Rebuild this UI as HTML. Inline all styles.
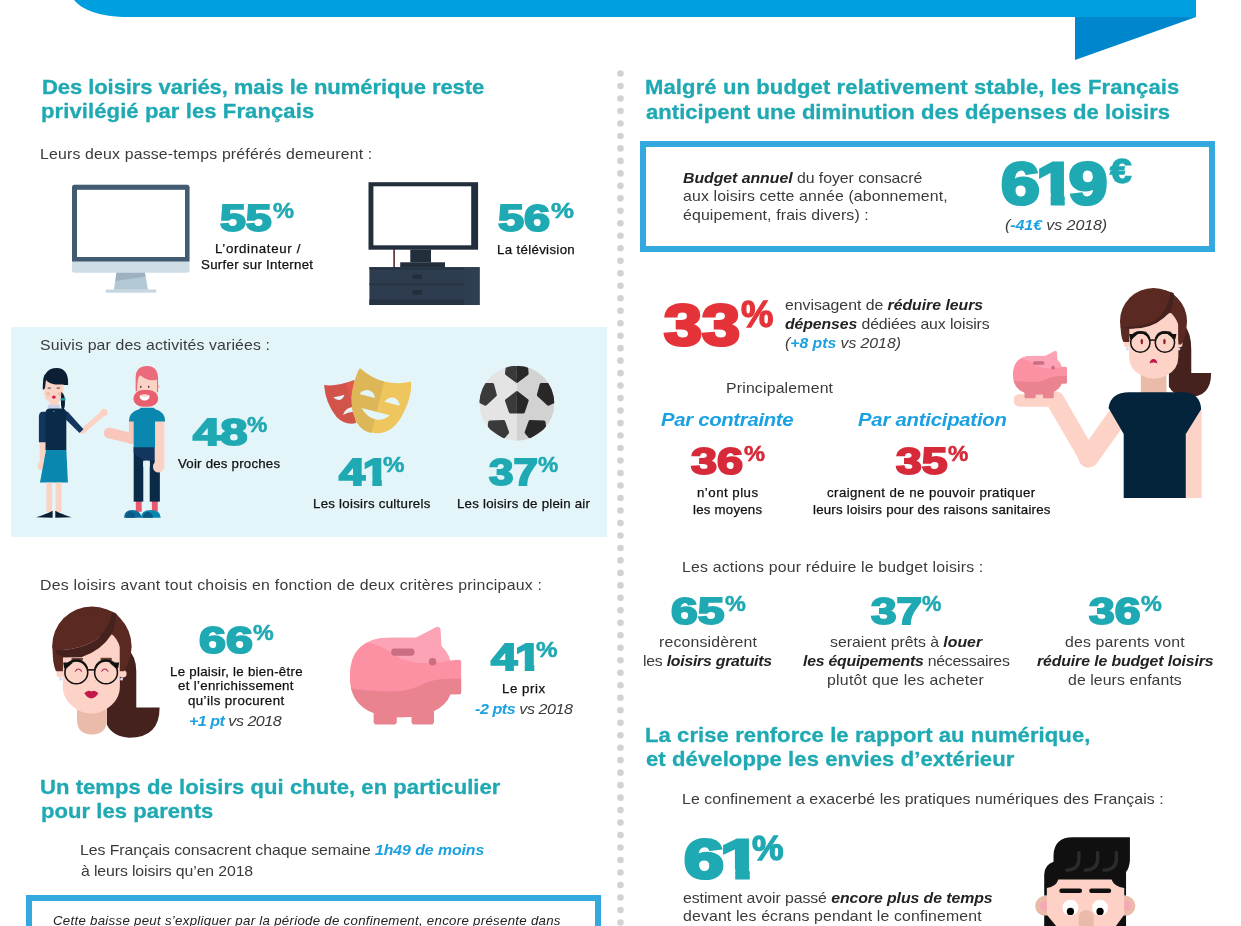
<!DOCTYPE html>
<html lang="fr"><head><meta charset="utf-8"><title>Les Français et les loisirs</title>
<style>
*{margin:0;padding:0;box-sizing:border-box}
html,body{width:1241px;height:926px;overflow:hidden;background:#fff}
body{position:relative;font-family:"Liberation Sans", Arial, sans-serif;}
.t{position:absolute;white-space:nowrap;line-height:1;transform-origin:0 0;}
.h{font-weight:700;color:#1fa9b3;-webkit-text-stroke:0.3px #1fa9b3;}
.b{color:#3a3a3a;}
.k{color:#111;-webkit-text-stroke:0.25px #111;}
.k2{color:#222}
.p{font-weight:700;font-style:italic;color:#1ba1e2;}
.bi{font-weight:700;font-style:italic;color:#222}
.bi.bl{color:#1ba1e2}
.n{font-weight:700;}
.n.t{color:#1fa9b3;-webkit-text-stroke:2px #1fa9b3;}
.n.r{color:#e5333a;-webkit-text-stroke:2px #e5333a;}
.n.r2{color:#d62a3a;-webkit-text-stroke:2px #d62a3a;}
.one{display:inline-block;margin:0 -0.09em 0 -0.05em;clip-path:polygon(0 0,100% 0,100% 66%,73.5% 66%,73.5% 130%,37.5% 130%,37.5% 66%,0 66%)}
.n.pc{-webkit-text-stroke-width:0.5px !important}
.n.pc.pcb{-webkit-text-stroke-width:1.3px !important}
.n.big{-webkit-text-stroke-width:3.2px}
.panel{position:absolute;left:11.2px;top:326.5px;width:595.8px;height:210.7px;background:#e4f5fa}
.box{position:absolute;border:6px solid #33a9dd;background:#fff}
#art{position:absolute;left:0;top:0;width:1241px;height:926px}
</style></head>
<body>
<div class="panel"></div>
<div class="box" style="left:640px;top:141px;width:575px;height:111px"></div>
<div class="box" style="left:26px;top:895px;width:575px;height:60px"></div>
<svg id="art" width="1241" height="926" viewBox="0 0 1241 926">

<path d="M74,0 C82,10 100,17 128,17 L1196,17 L1196,0 Z" fill="#00a0e0"/>
<path d="M1075,17 L1196,17 L1075,60 Z" fill="#0086cd"/>
<g fill="#d2d2d2"><circle cx="620.45" cy="73.50" r="3.3"/><circle cx="620.45" cy="85.98" r="3.3"/><circle cx="620.45" cy="98.47" r="3.3"/><circle cx="620.45" cy="110.95" r="3.3"/><circle cx="620.45" cy="123.44" r="3.3"/><circle cx="620.45" cy="135.93" r="3.3"/><circle cx="620.45" cy="148.41" r="3.3"/><circle cx="620.45" cy="160.89" r="3.3"/><circle cx="620.45" cy="173.38" r="3.3"/><circle cx="620.45" cy="185.87" r="3.3"/><circle cx="620.45" cy="198.35" r="3.3"/><circle cx="620.45" cy="210.83" r="3.3"/><circle cx="620.45" cy="223.32" r="3.3"/><circle cx="620.45" cy="235.81" r="3.3"/><circle cx="620.45" cy="248.29" r="3.3"/><circle cx="620.45" cy="260.77" r="3.3"/><circle cx="620.45" cy="273.26" r="3.3"/><circle cx="620.45" cy="285.75" r="3.3"/><circle cx="620.45" cy="298.23" r="3.3"/><circle cx="620.45" cy="310.71" r="3.3"/><circle cx="620.45" cy="323.20" r="3.3"/><circle cx="620.45" cy="335.69" r="3.3"/><circle cx="620.45" cy="348.17" r="3.3"/><circle cx="620.45" cy="360.65" r="3.3"/><circle cx="620.45" cy="373.14" r="3.3"/><circle cx="620.45" cy="385.62" r="3.3"/><circle cx="620.45" cy="398.11" r="3.3"/><circle cx="620.45" cy="410.59" r="3.3"/><circle cx="620.45" cy="423.08" r="3.3"/><circle cx="620.45" cy="435.56" r="3.3"/><circle cx="620.45" cy="448.05" r="3.3"/><circle cx="620.45" cy="460.53" r="3.3"/><circle cx="620.45" cy="473.02" r="3.3"/><circle cx="620.45" cy="485.50" r="3.3"/><circle cx="620.45" cy="497.99" r="3.3"/><circle cx="620.45" cy="510.47" r="3.3"/><circle cx="620.45" cy="522.96" r="3.3"/><circle cx="620.45" cy="535.44" r="3.3"/><circle cx="620.45" cy="547.93" r="3.3"/><circle cx="620.45" cy="560.41" r="3.3"/><circle cx="620.45" cy="572.90" r="3.3"/><circle cx="620.45" cy="585.38" r="3.3"/><circle cx="620.45" cy="597.87" r="3.3"/><circle cx="620.45" cy="610.36" r="3.3"/><circle cx="620.45" cy="622.84" r="3.3"/><circle cx="620.45" cy="635.32" r="3.3"/><circle cx="620.45" cy="647.81" r="3.3"/><circle cx="620.45" cy="660.29" r="3.3"/><circle cx="620.45" cy="672.78" r="3.3"/><circle cx="620.45" cy="685.26" r="3.3"/><circle cx="620.45" cy="697.75" r="3.3"/><circle cx="620.45" cy="710.24" r="3.3"/><circle cx="620.45" cy="722.72" r="3.3"/><circle cx="620.45" cy="735.20" r="3.3"/><circle cx="620.45" cy="747.69" r="3.3"/><circle cx="620.45" cy="760.17" r="3.3"/><circle cx="620.45" cy="772.66" r="3.3"/><circle cx="620.45" cy="785.14" r="3.3"/><circle cx="620.45" cy="797.63" r="3.3"/><circle cx="620.45" cy="810.12" r="3.3"/><circle cx="620.45" cy="822.60" r="3.3"/><circle cx="620.45" cy="835.08" r="3.3"/><circle cx="620.45" cy="847.57" r="3.3"/><circle cx="620.45" cy="860.05" r="3.3"/><circle cx="620.45" cy="872.54" r="3.3"/><circle cx="620.45" cy="885.02" r="3.3"/><circle cx="620.45" cy="897.51" r="3.3"/><circle cx="620.45" cy="910.00" r="3.3"/><circle cx="620.45" cy="922.48" r="3.3"/><circle cx="620.45" cy="934.96" r="3.3"/></g>

<g>
<path d="M113.9,289.7 L116.6,272 L144.8,272 L148,289.7 Z" fill="#b3c8d5"/>
<path d="M116.6,272 L144.8,272 L145.6,276.5 L115.3,281 Z" fill="#9db1c0"/>
<rect x="105.7" y="289.5" width="50.5" height="3.2" fill="#c6d7e1"/>
<rect x="72" y="184.8" width="117.5" height="88" rx="2.5" fill="#cfdde7"/>
<path d="M72,261.5 L72,187.3 Q72,184.8 74.5,184.8 L187,184.8 Q189.5,184.8 189.5,187.3 L189.5,261.5 Z" fill="#435b71"/>
<rect x="77" y="189.8" width="108" height="67.2" fill="#fff"/>
</g>

<g>
<rect x="393.3" y="249" width="1.6" height="19" fill="#5b2a2a"/>
<rect x="368.5" y="182.2" width="109.6" height="67.5" fill="#222e3c"/>
<rect x="373.4" y="186.3" width="97.8" height="59" fill="#fff"/>
<rect x="410.3" y="249.5" width="20.7" height="13" fill="#222e3c"/>
<rect x="400.2" y="262.3" width="44.8" height="5.2" fill="#222e3c"/>
<rect x="369.4" y="267.2" width="110.2" height="37.8" fill="#2d3d4f"/>
<rect x="369.4" y="267.2" width="94.8" height="2.4" fill="#253343"/>
<rect x="369.4" y="283.5" width="94.8" height="1.6" fill="#253343"/>
<rect x="369.4" y="299.6" width="94.8" height="5.4" fill="#253343"/>
<rect x="464.2" y="267.2" width="15.4" height="37.8" fill="#2f3f52"/>
<rect x="412.4" y="274.5" width="9.4" height="4.4" fill="#222e3c"/>
<rect x="412.4" y="290" width="9.4" height="4.6" fill="#222e3c"/>
</g>
<g transform="translate(25 360) scale(0.17816)">
<!-- woman -->
<path d="M100,165 Q95,45 178,45 Q245,45 242,140 L215,140 L215,120 L120,120 L112,165 Z" fill="#0b1e33"/>
<path d="M108,112 L215,112 L215,190 Q215,240 162,240 Q108,240 108,190 Z" fill="#fbd3c5"/>
<path d="M104,100 Q110,60 178,60 Q240,60 240,138 L170,138 Q130,130 118,112 L112,160 L100,160 Z" fill="#0b1e33"/>
<rect x="137" y="232" width="52" height="40" fill="#fbd3c5"/>
<path d="M203,180 Q228,190 224,250 Q222,280 210,282 Q198,270 203,180 Z" fill="#0b1e33"/>
<rect x="200" y="215" width="28" height="13" rx="4" fill="#1aa2b0"/>
<rect x="128" y="252" width="66" height="21" fill="#c9d3ea"/>
<ellipse cx="162" cy="208" rx="11" ry="9" fill="#d81f55"/>
<circle cx="130" cy="190" r="11" fill="#efbcae"/>
<circle cx="193" cy="190" r="11" fill="#efbcae"/>
<rect x="127" y="155" width="18" height="5" fill="#3b2a3a"/><rect x="178" y="155" width="18" height="5" fill="#3b2a3a"/>
<rect x="82" y="440" width="33" height="150" fill="#fbd3c5"/><circle cx="92" cy="595" r="23" fill="#fbd3c5"/>
<path d="M78,320 Q78,290 100,290 L118,290 L118,462 L78,462 Z" fill="#12365f"/>
<line x1="322" y1="400" x2="440" y2="297" stroke="#fbd3c5" stroke-width="30" stroke-linecap="round"/><circle cx="443" cy="294" r="21" fill="#fbd3c5"/>
<path d="M215,285 L240,290 L328,388 L306,410 L225,330 Z" fill="#12365f"/>
<path d="M115,300 Q115,272 140,272 L207,272 Q232,272 232,300 L232,507 L115,507 Z" fill="#0b2a47"/>
<circle cx="162" cy="288" r="3" fill="#c9d3ea"/>
<path d="M118,505 L232,505 L241,688 L84,688 Z" fill="#0a87ae"/>
<rect x="120" y="688" width="32" height="165" fill="#fbd3c5"/><rect x="172" y="688" width="32" height="165" fill="#fbd3c5"/>
<path d="M62,882 Q120,865 155,846 L155,886 Z" fill="#0b1e33"/>
<path d="M262,882 Q205,865 170,846 L170,886 Z" fill="#0b1e33"/>
<!-- man -->
<line x1="600" y1="440" x2="472" y2="410" stroke="#f8c6ba" stroke-width="60" stroke-linecap="round"/>
<rect x="622" y="790" width="33" height="62" fill="#e9596b"/><rect x="712" y="790" width="33" height="62" fill="#e9596b"/>
<path d="M556,885 Q556,842 602,842 Q648,842 655,885 Z" fill="#0a6a99"/>
<path d="M650,885 Q652,842 706,842 Q760,842 762,885 Z" fill="#0a87ae"/>
<path d="M660,885 Q664,855 690,852 Q715,855 718,885 Z" fill="#0a5a85"/>
<path d="M566,885 Q570,855 592,852 Q615,855 618,885 Z" fill="#0a5a85"/>
<rect x="610" y="488" width="147" height="307" fill="#0b2a47"/>
<path d="M610,488 L757,488 L757,540 Q690,600 610,520 Z" fill="#12365f"/>
<rect x="664" y="565" width="36" height="232" fill="#e4f5fa"/>
<path d="M664,570 Q682,560 700,570 L700,600 L664,600 Z" fill="#e4f5fa"/>
<rect x="728" y="330" width="54" height="270" fill="#fbd3c5"/><circle cx="750" cy="600" r="32" fill="#fbd3c5"/>
<rect x="583" y="340" width="29" height="130" fill="#f8c6ba"/>
<path d="M583,345 Q583,292 640,276 L650,268 L722,268 L732,276 Q787,292 787,345 L730,345 L730,490 L610,490 L610,345 Z" fill="#0a87ae"/>
<circle cx="747" cy="150" r="10" fill="#f8c6ba"/>
<path d="M625,200 L625,100 Q625,35 685,35 Q745,35 745,100 L745,200 Z" fill="#fbd3c5"/>
<path d="M621,175 L621,100 Q621,33 685,33 Q747,33 747,108 Q705,128 645,85 Q630,95 629,175 Z" fill="#ea6b7c"/>
<rect x="741" y="100" width="6" height="80" fill="#ea6b7c"/>
<rect x="608" y="169" width="140" height="94" rx="58" ry="47" fill="#e8606f"/>
<path d="M625,185 Q650,165 672,178 Q700,165 735,185 L735,210 L625,210 Z" fill="#e8606f"/>
<path d="M643,200 Q671,188 700,200 Q698,227 671,227 Q645,227 643,200 Z" fill="#fff"/>
<path d="M643,200 Q671,188 700,200 Q671,212 643,200 Z" fill="#fbd3c5"/>
<ellipse cx="650" cy="151" rx="4" ry="6" fill="#5a2326"/><ellipse cx="694" cy="151" rx="4" ry="6" fill="#5a2326"/>
</g>
<g transform="translate(315 360) scale(0.08642)">
<path d="M105,290 Q250,310 455,232 L440,450 L475,730 Q350,760 250,660 Q120,500 105,290 Z" fill="#d2534a"/>
<path d="M355,282 Q410,260 455,232 L440,450 L430,480 Q400,400 355,282 Z" fill="#e2584f"/>
<path d="M210,432 Q280,425 340,403 Q330,450 285,462 Q240,465 210,432 Z" fill="#e4f5fa"/>
<path d="M323,636 Q350,560 430,545 L440,600 Q380,605 323,636 Z" fill="#e4f5fa"/>
<path d="M520,95 Q650,210 800,250 Q960,290 1110,250 Q1130,420 1000,660 Q880,860 700,848 Q560,840 480,720 Q395,520 435,340 Q470,170 520,95 Z" fill="#efc65e"/>
<path d="M520,95 Q650,210 800,250 L655,843 Q550,830 480,720 Q395,520 435,340 Q470,170 520,95 Z" fill="#ddb757"/>
<path d="M515,392 Q560,340 625,350 Q685,370 695,440 Z" fill="#e4f5fa"/>
<path d="M805,482 Q850,425 910,435 Q965,450 982,530 Z" fill="#e4f5fa"/>
<path d="M540,555 L865,640 Q800,700 715,690 Q600,670 540,555 Z" fill="#e4f5fa"/>
</g>
<g transform="translate(470 358) scale(0.09724)">
<defs><clipPath id="bc"><circle cx="482" cy="465" r="385"/></clipPath>
<clipPath id="bl"><rect x="0" y="0" width="482" height="930"/></clipPath>
<clipPath id="br"><rect x="482" y="0" width="500" height="930"/></clipPath></defs>
<circle cx="482" cy="465" r="385" fill="#e4e4e4"/>
<path d="M482,80 A385,385 0 0 1 482,850 Z" fill="#d2d2d2"/>
<g clip-path="url(#bc)"><g clip-path="url(#bl)"><g stroke-linejoin="round" stroke-width="36" fill="#3a3a3a" stroke="#3a3a3a"><path d="M482,358 L585,438 L547,552 L417,552 L378,438 Z"/>
<path d="M385,100 L580,100 L585,160 L482,238 L378,160 Z"/>
<path d="M160,275 L230,275 L258,380 L158,472 L90,440 Z"/>
<path d="M804,275 L734,275 L706,380 L806,472 L874,440 Z"/>
<path d="M205,660 L345,656 L384,765 L345,810 L200,710 Z"/>
<path d="M759,660 L619,656 L580,765 L619,810 L764,710 Z"/></g></g>
<g clip-path="url(#br)"><g stroke-linejoin="round" stroke-width="36" fill="#282828" stroke="#282828"><path d="M482,358 L585,438 L547,552 L417,552 L378,438 Z"/>
<path d="M385,100 L580,100 L585,160 L482,238 L378,160 Z"/>
<path d="M160,275 L230,275 L258,380 L158,472 L90,440 Z"/>
<path d="M804,275 L734,275 L706,380 L806,472 L874,440 Z"/>
<path d="M205,660 L345,656 L384,765 L345,810 L200,710 Z"/>
<path d="M759,660 L619,656 L580,765 L619,810 L764,710 Z"/></g></g></g>
</g>
<g transform="translate(30 590) scale(0.17280)">
<path d="M560,340 Q615,380 615,470 L615,680 L750,680 Q750,855 575,855 Q480,850 445,780 L445,450 Z" fill="#45221d"/>
<circle cx="358" cy="325" r="230" fill="#5a2a22"/>
<path d="M272,640 L445,640 L445,750 Q445,836 358,836 Q272,836 272,750 Z" fill="#ebbbaa"/>
<circle cx="175" cy="485" r="22" fill="#fdd3c7"/><circle cx="537" cy="485" r="22" fill="#fdd3c7"/>
<path d="M190,300 L520,250 L520,560 Q520,640 440,690 Q355,740 270,690 Q190,640 190,560 Z" fill="#fdd3c7"/>
<circle cx="178" cy="515" r="9" fill="#d9daf0"/><circle cx="530" cy="515" r="9" fill="#d9daf0"/>
<path d="M497,134 Q560,200 575,300 Q590,400 545,470 L520,470 L520,330 Q505,280 472,255 Z" fill="#5a2a22"/>
<path d="M146,350 Q120,280 170,200 Q300,60 478,126 Q458,225 385,285 Q300,345 146,350 Z" fill="#5a2a22"/>
<path d="M478,126 L497,134 Q500,205 468,262 Q415,348 300,388 L185,390 Q155,385 146,350 Q300,345 385,285 Q458,225 478,126 Z" fill="#45221d"/>
<path d="M132,360 Q130,420 150,470 L190,470 L190,385 Z" fill="#5a2a22"/>
<rect x="240" y="392" width="66" height="18" rx="6" fill="#6b4236"/><rect x="408" y="392" width="66" height="18" rx="6" fill="#6b4236"/>
<circle cx="268" cy="477" r="66" fill="none" stroke="#111" stroke-width="9"/><circle cx="440" cy="477" r="66" fill="none" stroke="#111" stroke-width="9"/>
<path d="M205,452 A66,66 0 0 1 331,452" fill="none" stroke="#111" stroke-width="11"/>
<path d="M377,452 A66,66 0 0 1 503,452" fill="none" stroke="#111" stroke-width="11"/>
<path d="M192,420 L250,420 L215,450 L198,455 Z" fill="#111"/>
<path d="M516,420 L458,420 L493,450 L510,455 Z" fill="#111"/>
<path d="M332,462 L376,462" stroke="#111" stroke-width="9"/>
<path d="M262,470 Q280,445 298,470" fill="none" stroke="#b0224a" stroke-width="6" stroke-linecap="round"/>
<path d="M415,470 Q433,445 451,470" fill="none" stroke="#b0224a" stroke-width="6" stroke-linecap="round"/>
<path d="M314,598 Q335,575 355,588 Q375,575 396,598 Q375,628 355,628 Q335,628 314,598 Z" fill="#c2184b"/>
<circle cx="335" cy="526" r="5" fill="#f3c2b5"/><circle cx="376" cy="526" r="5" fill="#f3c2b5"/>
</g>
<g transform="translate(335 610) scale(0.14043)">
<path d="M575,198 L718,122 Q750,112 752,145 L760,290 Z" fill="#fca3b5"/>
<rect x="275" y="650" width="165" height="166" rx="22" fill="#e8838f"/><rect x="545" y="650" width="160" height="166" rx="22" fill="#e8838f"/>
<clipPath id="pc1"><path d="M105,470 Q105,195 400,195 L560,195 Q780,205 820,360 L880,355 Q900,355 900,380 L900,580 Q900,600 880,600 L822,600 Q760,760 465,765 Q105,760 105,470 Z"/></clipPath>
<g clip-path="url(#pc1)">
<rect x="90" y="150" width="830" height="640" fill="#fb91a2"/>
<path d="M235,232 Q330,250 420,320 Q560,410 820,362 L830,150 L235,150 Z" fill="#fca3b5"/>
<path d="M100,555 Q300,590 480,575 Q560,565 640,520 Q740,480 905,492 L905,800 L100,800 Z" fill="#e8838f"/>
</g>
<rect x="400" y="275" width="166" height="50" rx="22" fill="#cb6e82"/>
<circle cx="695" cy="368" r="27" fill="#cb6e82"/>
</g>
<g transform="translate(1000 275) scale(0.24839)">
<path d="M740,200 Q770,230 770,300 L770,395 L850,395 Q850,492 760,492 Q700,488 680,450 L680,300 Z" fill="#45221d"/>
<circle cx="618" cy="187" r="135" fill="#5a2a22"/>
<path d="M567,380 L670,380 L670,476 L567,476 Z" fill="#ebbbaa"/>
<circle cx="512" cy="278" r="13" fill="#fdd3c7"/><circle cx="722" cy="278" r="13" fill="#fdd3c7"/>
<path d="M520,170 L718,150 L718,330 Q718,380 670,405 Q620,430 570,405 Q520,380 520,330 Z" fill="#fdd3c7"/>
<circle cx="513" cy="298" r="6" fill="#d9daf0"/><circle cx="720" cy="298" r="6" fill="#d9daf0"/>
<path d="M700,80 Q740,120 748,180 Q755,240 730,280 L718,280 L718,200 Q705,165 685,150 Z" fill="#5a2a22"/>
<path d="M497,215 Q600,220 655,165 Q690,125 698,72 Q585,30 510,115 Q480,160 497,215 Z" fill="#5a2a22"/>
<path d="M497,215 Q600,225 660,172 Q685,150 685,148 Q702,115 700,74 L686,68 Q680,125 645,165 Q595,215 497,208 Z" fill="#45221d"/>
<path d="M486,205 Q485,245 497,270 L520,270 L520,218 Z" fill="#5a2a22"/>
<rect x="548" y="227" width="42" height="11" rx="4" fill="#6b4236"/><rect x="647" y="227" width="42" height="11" rx="4" fill="#6b4236"/>
<circle cx="565" cy="272" r="39" fill="none" stroke="#111" stroke-width="6"/><circle cx="664" cy="272" r="39" fill="none" stroke="#111" stroke-width="6"/>
<path d="M528,257 A39,39 0 0 1 602,257" fill="none" stroke="#111" stroke-width="9"/>
<path d="M627,257 A39,39 0 0 1 701,257" fill="none" stroke="#111" stroke-width="9"/>
<path d="M520,238 L555,238 L534,256 L524,259 Z" fill="#111"/>
<path d="M710,238 L675,238 L696,256 L706,259 Z" fill="#111"/>
<path d="M602,262 L628,262" stroke="#111" stroke-width="6"/>
<ellipse cx="571" cy="268" rx="5" ry="11" fill="#8c1f2f"/><ellipse cx="662" cy="268" rx="5" ry="11" fill="#8c1f2f"/>
<path d="M602,356 Q606,338 618,338 Q630,338 634,356 Q618,348 602,356 Z" fill="#c2184b"/>
<!-- arms -->
<rect x="748" y="545" width="64" height="353" fill="#fdd3c7"/>
<path d="M470,575 L356,735" stroke="#fdd3c7" stroke-width="82" stroke-linecap="round"/>
<path d="M356,735 L222,505" stroke="#fdd3c7" stroke-width="74" stroke-linecap="round"/>
<path d="M78,480 L250,480 Q270,505 250,530 L85,530 Q55,530 55,505 Q55,480 78,480 Z" fill="#fdd3c7"/>
<path d="M437,535 Q445,472 520,472 L735,472 Q805,472 810,540 L748,640 L748,898 L498,898 L498,640 Z" fill="#03243b"/>
<g transform="translate(23.21 272.09) scale(0.2742)">
<path d="M575,198 L718,122 Q750,112 752,145 L760,290 Z" fill="#fca3b5"/>
<rect x="275" y="650" width="165" height="166" rx="22" fill="#e8838f"/><rect x="545" y="650" width="160" height="166" rx="22" fill="#e8838f"/>
<clipPath id="pc2"><path d="M105,470 Q105,195 400,195 L560,195 Q780,205 820,360 L880,355 Q900,355 900,380 L900,580 Q900,600 880,600 L822,600 Q760,760 465,765 Q105,760 105,470 Z"/></clipPath>
<g clip-path="url(#pc2)">
<rect x="90" y="150" width="830" height="640" fill="#fb91a2"/>
<path d="M235,232 Q330,250 420,320 Q560,410 820,362 L830,150 L235,150 Z" fill="#fca3b5"/>
<path d="M100,555 Q300,590 480,575 Q560,565 640,520 Q740,480 905,492 L905,800 L100,800 Z" fill="#e8838f"/>
</g>
<rect x="400" y="275" width="166" height="50" rx="22" fill="#cb6e82"/>
<circle cx="695" cy="368" r="27" fill="#cb6e82"/>
</g></g>
<g transform="translate(1010 820) scale(0.12088)">
<circle cx="292" cy="710" r="84" fill="#ebbbaa"/><circle cx="953" cy="710" r="84" fill="#ebbbaa"/>
<circle cx="285" cy="710" r="40" fill="#f4a9b4"/><circle cx="965" cy="710" r="40" fill="#f4a9b4"/>
<rect x="305" y="480" width="640" height="420" fill="#fdd1c5"/>
<path d="M283,625 L283,450 Q285,370 360,345 L360,290 Q365,142 520,142 L992,142 L992,330 Q990,390 960,430 L960,625 L945,625 L945,562 Q860,550 840,492 L400,492 Q380,555 305,562 L305,625 Z" fill="#101010"/>
<g fill="none" stroke="#2b2b2b" stroke-width="28" stroke-linecap="round">
<path d="M570,268 L570,330 Q565,412 470,415"/><path d="M725,268 L725,330 Q720,412 622,415"/><path d="M880,268 L880,330 Q875,412 778,415"/></g>
<rect x="408" y="567" width="188" height="37" rx="18" fill="#101010"/><rect x="655" y="567" width="182" height="37" rx="18" fill="#101010"/>
<circle cx="500" cy="725" r="66" fill="#fff"/><circle cx="745" cy="725" r="66" fill="#fff"/>
<circle cx="500" cy="756" r="30" fill="#000"/><circle cx="745" cy="756" r="30" fill="#000"/>
<rect x="568" y="745" width="124" height="200" rx="60" fill="#ebbbaa"/>
<path d="M283,790 L310,790 L400,900 L283,900 Z" fill="#101010"/>
<path d="M960,790 L940,790 L860,900 L960,900 Z" fill="#101010"/>
</g>
</svg>
<div class="t h" id="h1a" style="left:41.6px;top:77px;font-size:20.6px;letter-spacing:-0.080px;transform:scaleX(1.07);">Des loisirs variés, mais le numérique reste</div>
<div class="t h" id="h1b" style="left:40.8px;top:101px;font-size:20.6px;letter-spacing:0.090px;transform:scaleX(1.07);">privilégié par les Français</div>
<div class="t h" id="h2a" style="left:40.0px;top:777px;font-size:20.6px;letter-spacing:0.053px;transform:scaleX(1.07);">Un temps de loisirs qui chute, en particulier</div>
<div class="t h" id="h2b" style="left:41.0px;top:801px;font-size:20.6px;letter-spacing:0.053px;transform:scaleX(1.07);">pour les parents</div>
<div class="t h" id="h3a" style="left:645.4px;top:77px;font-size:20.6px;letter-spacing:0.101px;transform:scaleX(1.07);">Malgré un budget relativement stable, les Français</div>
<div class="t h" id="h3b" style="left:646.4px;top:102px;font-size:20.6px;letter-spacing:0.025px;transform:scaleX(1.07);">anticipent une diminution des dépenses de loisirs</div>
<div class="t h" id="h4a" style="left:645.3px;top:725px;font-size:20.6px;letter-spacing:0.075px;transform:scaleX(1.07);">La crise renforce le rapport au numérique,</div>
<div class="t h" id="h4b" style="left:646.3px;top:749px;font-size:20.6px;letter-spacing:0.093px;transform:scaleX(1.07);">et développe les envies d’extérieur</div>
<div class="t b" id="b1" style="left:40.0px;top:147px;font-size:14.8px;letter-spacing:0.167px;transform:scaleX(1.07);">Leurs deux passe-temps préférés demeurent :</div>
<div class="t b" id="b2" style="left:40.0px;top:338px;font-size:14.8px;letter-spacing:0.133px;transform:scaleX(1.07);">Suivis par des activités variées :</div>
<div class="t b" id="b3" style="left:40.0px;top:578px;font-size:14.8px;letter-spacing:0.237px;transform:scaleX(1.07);">Des loisirs avant tout choisis en fonction de deux critères principaux :</div>
<div class="t b" id="b4a" style="left:79.5px;top:843px;font-size:14.8px;letter-spacing:-0.059px;transform:scaleX(1.07);">Les Français consacrent chaque semaine <b class="bi bl">1h49 de moins</b></div>
<div class="t b" id="b4b" style="left:80.5px;top:864px;font-size:14.8px;letter-spacing:-0.112px;transform:scaleX(1.07);">à leurs loisirs qu’en 2018</div>
<div class="t b" id="b5a" style="left:683.0px;top:171px;font-size:14.8px;letter-spacing:-0.031px;transform:scaleX(1.07);"><b class="bi">Budget annuel</b> du foyer consacré</div>
<div class="t b" id="b5b" style="left:683.0px;top:189px;font-size:14.8px;letter-spacing:0.134px;transform:scaleX(1.07);">aux loisirs cette année (abonnement,</div>
<div class="t b" id="b5c" style="left:683.0px;top:208px;font-size:14.8px;letter-spacing:0.129px;transform:scaleX(1.07);">équipement, frais divers) :</div>
<div class="t b" id="b6a" style="left:785.4px;top:298px;font-size:14.8px;letter-spacing:-0.029px;transform:scaleX(1.07);">envisagent de <b class="bi">réduire leurs</b></div>
<div class="t b" id="b6b" style="left:785.4px;top:317px;font-size:14.8px;letter-spacing:-0.104px;transform:scaleX(1.07);"><b class="bi">dépenses</b> dédiées aux loisirs</div>
<div class="t b" id="b6c" style="left:785.4px;top:336px;font-size:14.8px;letter-spacing:-0.044px;transform:scaleX(1.07);"><i>(</i><b class="bi bl">+8 pts</b><i> vs 2018)</i></div>
<div class="t b" id="b7" style="left:726.2px;top:381px;font-size:14.8px;letter-spacing:0.165px;transform:scaleX(1.07);">Principalement</div>
<div class="t b" id="b8" style="left:682.0px;top:560px;font-size:14.8px;letter-spacing:0.178px;transform:scaleX(1.07);">Les actions pour réduire le budget loisirs :</div>
<div class="t b" id="b9" style="left:682.0px;top:792px;font-size:14.8px;letter-spacing:0.082px;transform:scaleX(1.07);">Le confinement a exacerbé les pratiques numériques des Français :</div>
<div class="t b" id="b10a" style="left:683.0px;top:891px;font-size:14.8px;letter-spacing:-0.065px;transform:scaleX(1.07);">estiment avoir passé <b class="bi">encore plus de temps</b></div>
<div class="t b" id="b10b" style="left:683.0px;top:909px;font-size:14.8px;letter-spacing:0.132px;transform:scaleX(1.07);">devant les écrans pendant le confinement</div>
<div class="t b" id="c1a" style="left:658.6px;top:635px;font-size:14.8px;letter-spacing:0.156px;transform:scaleX(1.07);">reconsidèrent</div>
<div class="t b" id="c1b" style="left:643.3px;top:654px;font-size:14.8px;letter-spacing:-0.231px;transform:scaleX(1.07);">les <b class="bi">loisirs gratuits</b></div>
<div class="t b" id="c2a" style="left:829.6px;top:635px;font-size:14.8px;letter-spacing:-0.009px;transform:scaleX(1.07);">seraient prêts à <b class="bi">louer</b></div>
<div class="t b" id="c2b" style="left:802.6px;top:654px;font-size:14.8px;letter-spacing:-0.219px;transform:scaleX(1.07);"><b class="bi">les équipements</b> nécessaires</div>
<div class="t b" id="c2c" style="left:827.0px;top:673px;font-size:14.8px;letter-spacing:0.240px;transform:scaleX(1.07);">plutôt que les acheter</div>
<div class="t b" id="c3a" style="left:1064.8px;top:635px;font-size:14.8px;letter-spacing:0.162px;transform:scaleX(1.07);">des parents vont</div>
<div class="t b" id="c3b" style="left:1036.5px;top:654px;font-size:14.8px;letter-spacing:-0.109px;transform:scaleX(1.07);"><b class="bi">réduire le budget loisirs</b></div>
<div class="t b" id="c3c" style="left:1068.3px;top:673px;font-size:14.8px;letter-spacing:0.069px;transform:scaleX(1.07);">de leurs enfants</div>
<div class="t b" id="i619" style="left:1005.0px;top:217px;font-size:15px;letter-spacing:-0.093px;transform:scaleX(1.07);"><i>(</i><b class="bi bl">-41€</b><i> vs 2018)</i></div>
<div class="t b" id="i66" style="left:189.0px;top:713px;font-size:15px;letter-spacing:-0.467px;transform:scaleX(1.07);"><b class="bi bl">+1 pt</b><i> vs 2018</i></div>
<div class="t b" id="i41" style="left:474.5px;top:701px;font-size:15px;letter-spacing:-0.395px;transform:scaleX(1.07);"><b class="bi bl">-2 pts</b><i> vs 2018</i></div>
<div class="t k2" id="i5" style="left:53.0px;top:915px;font-size:12.4px;letter-spacing:0.263px;transform:scaleX(1.07);"><i>Cette baisse peut s’expliquer par la période de confinement, encore présente dans</i></div>
<div class="t p" id="p1" style="left:661.3px;top:410px;font-size:19px;letter-spacing:-0.295px;transform:scaleX(1.07);">Par contrainte</div>
<div class="t p" id="p2" style="left:857.6px;top:410px;font-size:19px;letter-spacing:-0.224px;transform:scaleX(1.07);">Par anticipation</div>
<div class="t k" id="l55a" style="left:214.8px;top:243px;font-size:12.4px;letter-spacing:0.625px;transform:scaleX(1.07);">L’ordinateur /</div>
<div class="t k" id="l55b" style="left:200.7px;top:259px;font-size:12.4px;letter-spacing:0.270px;transform:scaleX(1.07);">Surfer sur Internet</div>
<div class="t k" id="l56" style="left:497.0px;top:244px;font-size:12.4px;letter-spacing:0.312px;transform:scaleX(1.07);">La télévision</div>
<div class="t k" id="l48" style="left:178.4px;top:458px;font-size:12.4px;letter-spacing:0.206px;transform:scaleX(1.07);">Voir des proches</div>
<div class="t k" id="l41" style="left:312.7px;top:498px;font-size:12.4px;letter-spacing:0.248px;transform:scaleX(1.07);">Les loisirs culturels</div>
<div class="t k" id="l37" style="left:456.5px;top:498px;font-size:12.4px;letter-spacing:0.223px;transform:scaleX(1.07);">Les loisirs de plein air</div>
<div class="t k" id="l66a" style="left:169.5px;top:666px;font-size:12.4px;letter-spacing:0.264px;transform:scaleX(1.07);">Le plaisir, le bien-être</div>
<div class="t k" id="l66b" style="left:178.0px;top:680px;font-size:12.4px;letter-spacing:0.296px;transform:scaleX(1.07);">et l’enrichissement</div>
<div class="t k" id="l66c" style="left:188.0px;top:695px;font-size:12.4px;letter-spacing:0.386px;transform:scaleX(1.07);">qu’ils procurent</div>
<div class="t k" id="l41b" style="left:501.5px;top:683px;font-size:12.4px;letter-spacing:0.514px;transform:scaleX(1.07);">Le prix</div>
<div class="t k" id="l36a" style="left:697.0px;top:487px;font-size:12.4px;letter-spacing:0.447px;transform:scaleX(1.07);">n’ont plus</div>
<div class="t k" id="l36b" style="left:693.0px;top:504px;font-size:12.4px;letter-spacing:0.208px;transform:scaleX(1.07);">les moyens</div>
<div class="t k" id="l35a" style="left:827.0px;top:487px;font-size:12.4px;letter-spacing:0.397px;transform:scaleX(1.07);">craignent de ne pouvoir pratiquer</div>
<div class="t k" id="l35b" style="left:813.0px;top:504px;font-size:12.4px;letter-spacing:0.210px;transform:scaleX(1.07);">leurs loisirs pour des raisons sanitaires</div>
<div class="t n t" id="n55" style="left:220.4px;top:199.9px;font-size:37.8px;transform:scaleX(1.2286)">55</div>
<div class="t n pc t" id="n55p" style="left:272.5px;top:199.9px;font-size:22.0px;transform:scaleX(1.0750)">%</div>
<div class="t n t" id="n56" style="left:498.0px;top:200.3px;font-size:37.8px;transform:scaleX(1.2381)">56</div>
<div class="t n pc t" id="n56p" style="left:550.5px;top:200.3px;font-size:22.0px;transform:scaleX(1.1750)">%</div>
<div class="t n t" id="n48" style="left:192.5px;top:413.9px;font-size:37.8px;transform:scaleX(1.2953)">48</div>
<div class="t n pc t" id="n48p" style="left:247.4px;top:413.9px;font-size:22.0px;transform:scaleX(1.0400)">%</div>
<div class="t n t" id="n41" style="left:339.2px;top:454.3px;font-size:37.8px;transform:scaleX(1.2361)">4<span class="one">1</span></div>
<div class="t n pc t" id="n41p" style="left:383.0px;top:454.3px;font-size:22.0px;transform:scaleX(1.1000)">%</div>
<div class="t n t" id="n37" style="left:488.7px;top:454.3px;font-size:37.8px;transform:scaleX(1.1628)">37</div>
<div class="t n pc t" id="n37p" style="left:538.0px;top:454.3px;font-size:22.0px;transform:scaleX(1.0350)">%</div>
<div class="t n t" id="n66" style="left:198.7px;top:622.3px;font-size:37.8px;transform:scaleX(1.2810)">66</div>
<div class="t n pc t" id="n66p" style="left:253.0px;top:622.3px;font-size:22.0px;transform:scaleX(1.0600)">%</div>
<div class="t n t" id="n41b" style="left:491.2px;top:639.0px;font-size:37.8px;transform:scaleX(1.2500)">4<span class="one">1</span></div>
<div class="t n pc t" id="n41bp" style="left:535.5px;top:639.0px;font-size:22.0px;transform:scaleX(1.1000)">%</div>
<div class="t n r2" id="n36r" style="left:691.2px;top:443.3px;font-size:37.8px;transform:scaleX(1.2395)">36</div>
<div class="t n pc r2" id="n36rp" style="left:743.8px;top:443.3px;font-size:22.0px;transform:scaleX(1.0750)">%</div>
<div class="t n r2" id="n35r" style="left:896.4px;top:443.3px;font-size:37.8px;transform:scaleX(1.2256)">35</div>
<div class="t n pc r2" id="n35rp" style="left:948.4px;top:443.3px;font-size:22.0px;transform:scaleX(1.0400)">%</div>
<div class="t n t" id="n65" style="left:670.6px;top:593.2px;font-size:37.8px;transform:scaleX(1.2714)">65</div>
<div class="t n pc t" id="n65p" style="left:724.5px;top:593.2px;font-size:22.0px;transform:scaleX(1.0650)">%</div>
<div class="t n t" id="n37b" style="left:870.5px;top:593.2px;font-size:37.8px;transform:scaleX(1.2140)">37</div>
<div class="t n pc t" id="n37bp" style="left:922.0px;top:593.2px;font-size:22.0px;transform:scaleX(0.9900)">%</div>
<div class="t n t" id="n36b" style="left:1088.6px;top:593.2px;font-size:37.8px;transform:scaleX(1.2233)">36</div>
<div class="t n pc t" id="n36bp" style="left:1140.5px;top:593.2px;font-size:22.0px;transform:scaleX(1.0650)">%</div>
<div class="t n r big" id="n33" style="left:663.8px;top:297.0px;font-size:57.36px;transform:scaleX(1.1908)">33</div>
<div class="t n pc r pcb" id="n33p" style="left:741.0px;top:296.4px;font-size:37.13px;transform:scaleX(0.9818)">%</div>
<div class="t n t big" id="n619" style="left:1001.4px;top:154.6px;font-size:58.42px;transform:scaleX(1.1910)">6<span class="one">1</span>9</div>
<div class="t n pc t pcb" id="n619p" style="left:1110.1px;top:154.0px;font-size:35.8px;transform:scaleX(1.0857)">€</div>
<div class="t n t big" id="n61" style="left:684.0px;top:833.2px;font-size:54.61px;transform:scaleX(1.3140)">6<span class="one">1</span></div>
<div class="t n pc t pcb" id="n61p" style="left:751.6px;top:830.8px;font-size:34.77px;transform:scaleX(1.0194)">%</div>
</body></html>
